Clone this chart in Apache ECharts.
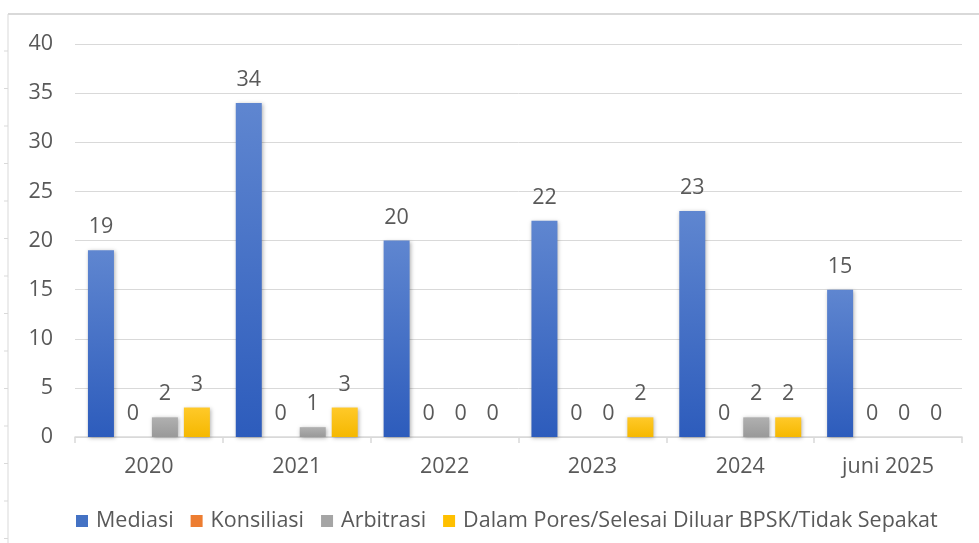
<!DOCTYPE html>
<html>
<head>
<meta charset="utf-8">
<script src="https://cdn.jsdelivr.net/npm/echarts@6/dist/echarts.min.js"></script>
<style>
html,body{margin:0;padding:0;background:#fff;}
#chart{width:979px;height:543px;}
</style>
</head>
<body>
<div id="chart"></div>
<script>
const categories = ['2020', '2021', '2022', '2023', '2024', 'juni 2025'];
const mediasi = [19, 34, 20, 22, 23, 15];
const konsiliasi = [0, 0, 0, 0, 0, 0];
const arbitrasi = [2, 1, 0, 0, 2, 0];
const dalamPores = [3, 3, 0, 2, 2, 0];
const seriesNames = ['Mediasi', 'Konsiliasi', 'Arbitrasi', 'Dalam Pores/Selesai Diluar BPSK/Tidak Sepakat'];
const yTicks = { min: 0, max: 40, interval: 5 };

const FONT = '"Open Sans", "Noto Sans", sans-serif';
const TXT = '#595959';
const FS = 21.5;

function grad(top, bottom) {
  return new echarts.graphic.LinearGradient(0, 0, 0, 1, [
    { offset: 0, color: top }, { offset: 1, color: bottom }
  ]);
}

const colors = [
  grad('#5f86d0', '#2d5cbc'),
  grad('#f28e4b', '#e06a1b'),
  grad('#b0b0b0', '#999999'),
  grad('#ffc929', '#f5b800')
];
const legendColors = ['#4472c4', '#ed7d31', '#a5a5a5', '#ffc000'];
const dataSets = [mediasi, konsiliasi, arbitrasi, dalamPores];

const chart = echarts.init(document.getElementById('chart'), null, { renderer: 'canvas' });

const leftTicks = [];
for (let y = 51; y < 543; y += 37.5) {
  leftTicks.push({ type: 'line', shape: { x1: 4, y1: y, x2: 8, y2: y }, style: { stroke: '#d9d9d9', lineWidth: 1 }, silent: true });
}

const option = {
  backgroundColor: '#ffffff',
  animation: false,
  textStyle: { fontFamily: FONT },
  grid: { left: 75, right: 17, top: 44, bottom: 106, containLabel: false },
  legend: {
    left: 71,
    top: 505,
    itemWidth: 12,
    itemHeight: 12,
    itemGap: 17,
    icon: 'rect',
    textStyle: { color: TXT, fontSize: FS, fontFamily: FONT, padding: [0, 0, 0, 3] },
    data: seriesNames.map((n, i) => ({ name: n, itemStyle: { color: legendColors[i] } }))
  },
  xAxis: {
    type: 'category',
    data: categories,
    axisLine: { show: true, lineStyle: { color: '#d9d9d9', width: 1.5 } },
    axisTick: { show: true, length: 6, lineStyle: { color: '#d9d9d9', width: 1.5 } },
    axisLabel: { color: TXT, fontSize: FS, margin: 19, fontFamily: FONT },
    splitLine: { show: false }
  },
  yAxis: {
    type: 'value',
    min: yTicks.min,
    max: yTicks.max,
    interval: yTicks.interval,
    axisLine: { show: false },
    axisTick: { show: false },
    axisLabel: { color: TXT, fontSize: FS, margin: 22, fontFamily: FONT },
    splitLine: { show: true, lineStyle: { color: '#d9d9d9', width: 1 } }
  },
  graphic: [
    { type: 'line', shape: { x1: 8, y1: 14, x2: 979, y2: 14 }, style: { stroke: '#d9d9d9', lineWidth: 2 }, silent: true },
    { type: 'line', shape: { x1: 8, y1: 14, x2: 8, y2: 543 }, style: { stroke: '#d9d9d9', lineWidth: 1 }, silent: true }
  ].concat(leftTicks),
  series: seriesNames.map((name, i) => ({
    name: name,
    type: 'bar',
    data: dataSets[i],
    barWidth: 26,
    barGap: '23%',
    barCategoryGap: '17%',
    itemStyle: {
      color: colors[i],
      shadowBlur: 4,
      shadowColor: 'rgba(0,0,0,0.3)',
      shadowOffsetX: 1,
      shadowOffsetY: 1
    },
    label: {
      show: true,
      position: 'top',
      distance: 12,
      color: TXT,
      fontSize: FS,
      fontFamily: FONT
    }
  }))
};

chart.setOption(option);
</script>
</body>
</html>
